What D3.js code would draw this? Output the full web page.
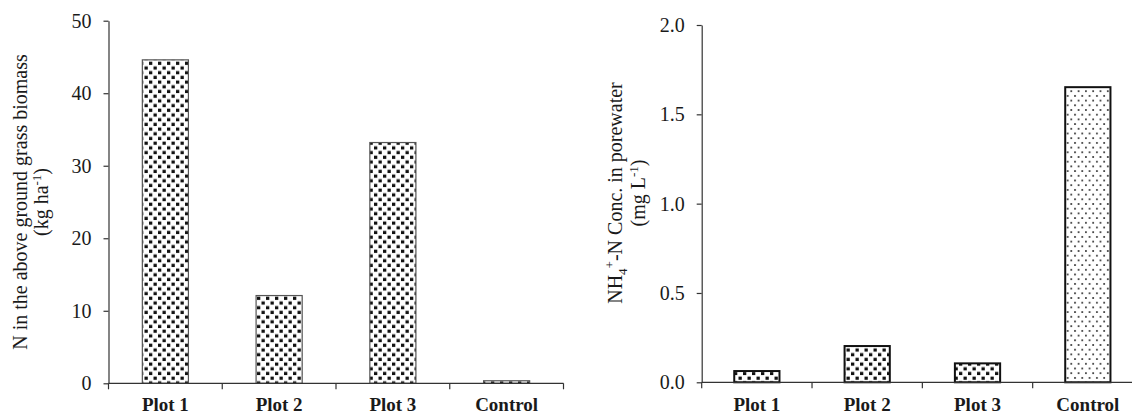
<!DOCTYPE html>
<html>
<head>
<meta charset="utf-8">
<script src="https://cdn.jsdelivr.net/npm/d3@7"></script>
<style>
  html, body { margin: 0; padding: 0; background: #fff; }
  svg { display: block; }
  text { font-family: "Liberation Serif", "Times New Roman", serif; fill: #1a1a1a; }
</style>
</head>
<body>
<svg id="chart" width="1132" height="414"></svg>
<script>
// ---- data ----
const categories = ["Plot 1", "Plot 2", "Plot 3", "Control"];
const biomassN = [44.6, 12.1, 33.2, 0.35];          // kg ha-1
const porewaterNH4 = [0.063, 0.203, 0.106, 1.652];   // mg L-1
const leftTicks = [0, 10, 20, 30, 40, 50];
const rightTicks = [0, 0.5, 1.0, 1.5, 2.0];

const svg = d3.select("#chart");
const defs = svg.append("defs");

(function () {
  const w = 9, h = 9.4;
  const p = defs.append("pattern").attr("id", "dense").attr("patternUnits", "userSpaceOnUse")
    .attr("width", w).attr("height", h);
  p.append("rect").attr("width", w).attr("height", h).attr("fill", "#fff");
  p.append("rect").attr("x", 0.5).attr("y", 0.6).attr("width", 3.3).attr("height", 3.2).attr("fill", "#111");
  p.append("rect").attr("x", 5).attr("y", 5.3).attr("width", 3.3).attr("height", 3.2).attr("fill", "#111");
})();
(function () {
  const w = 7.3, h = 9.4;
  const p = defs.append("pattern").attr("id", "sparse").attr("patternUnits", "userSpaceOnUse")
    .attr("width", w).attr("height", h);
  p.append("rect").attr("width", w).attr("height", h).attr("fill", "#fff");
  p.append("rect").attr("x", 1).attr("y", 1).attr("width", 1.8).attr("height", 1.8).attr("fill", "#444");
  p.append("rect").attr("x", 4.6).attr("y", 5.7).attr("width", 1.8).attr("height", 1.8).attr("fill", "#444");
})();

function drawPanel(opts) {
  const g = svg.append("g");
  const x = d3.scaleBand().domain(categories).range(opts.xRange).padding(0);
  const y = d3.scaleLinear().domain(opts.yDomain).range(opts.yRange);
  const bw = x.bandwidth();
  const barW = bw * opts.barFrac;
  const x0 = opts.xRange[0];
  const yBase = y(0);

  g.selectAll("rect.bar").data(opts.values).join("rect")
    .attr("class", "bar")
    .attr("x", (d, i) => x(categories[i]) + (bw - barW) / 2)
    .attr("y", d => y(d))
    .attr("width", barW)
    .attr("height", d => yBase - y(d))
    .attr("fill", (d, i) => `url(#${opts.fills[i]})`)
    .attr("stroke", opts.barStroke)
    .attr("stroke-width", opts.barStrokeW);

  const yAxis = d3.axisLeft(y).tickValues(opts.ticks).tickSize(5).tickSizeOuter(0).tickPadding(12)
    .tickFormat(opts.fmt);
  const ya = g.append("g").attr("transform", `translate(${x0},0)`).call(yAxis);
  ya.select(".domain").attr("stroke", "#333").attr("stroke-width", 1.2);
  ya.selectAll(".tick line").attr("stroke", "#333").attr("stroke-width", 1.2);
  ya.selectAll(".tick text").style("font-family", "Liberation Serif").style("font-size", "20px").attr("fill", "#1a1a1a");

  g.append("line").attr("x1", x0).attr("x2", opts.xRange[1]).attr("y1", yBase).attr("y2", yBase)
    .attr("stroke", "#333").attr("stroke-width", 1.2);
  const bounds = categories.map(c => x(c)).concat([opts.xRange[1]]);
  g.selectAll("line.xt").data(bounds).join("line").attr("class", "xt")
    .attr("x1", d => d).attr("x2", d => d).attr("y1", yBase).attr("y2", yBase + 6)
    .attr("stroke", "#333").attr("stroke-width", 1.2);
  g.selectAll("text.xl").data(categories).join("text").attr("class", "xl")
    .attr("x", d => x(d) + bw / 2).attr("y", 411)
    .attr("text-anchor", "middle").style("font-size", "19px").style("font-weight", "bold")
    .text(d => d);

  const t = g.append("g").attr("transform", `translate(0,${opts.titleY}) rotate(-90)`);
  opts.title(t);
}

drawPanel({
  xRange: [108.5, 563.5], yDomain: [0, 50], yRange: [383.3, 20.7],
  values: biomassN, ticks: leftTicks, fmt: d3.format("d"), barFrac: 0.405,
  fills: ["dense", "dense", "dense", "dense"], barStroke: "#555", barStrokeW: 1.2,
  titleY: 202,
  title: (t) => {
    t.append("text").attr("x", 0).attr("y", 27).attr("text-anchor", "middle").style("font-size", "20px")
      .text("N in the above ground grass biomass");
    const l2 = t.append("text").attr("x", 0).attr("y", 48).attr("text-anchor", "middle").style("font-size", "20px");
    l2.append("tspan").text("(kg ha");
    l2.append("tspan").attr("dy", -7).style("font-size", "13px").text("-1");
    l2.append("tspan").attr("dy", 7).text(")");
  }
});

drawPanel({
  xRange: [701.7, 1143], yDomain: [0, 2], yRange: [382.3, 25],
  values: porewaterNH4, ticks: rightTicks, fmt: d3.format(".1f"), barFrac: 0.41,
  fills: ["dense", "dense", "dense", "sparse"], barStroke: "#111", barStrokeW: 2,
  titleY: 193,
  title: (t) => {
    const l1 = t.append("text").attr("x", 0).attr("y", 622).attr("text-anchor", "middle").style("font-size", "20px");
    l1.append("tspan").text("NH");
    l1.append("tspan").attr("dy", 5).style("font-size", "13px").text("4");
    l1.append("tspan").attr("dy", -13).style("font-size", "13px").text("+");
    l1.append("tspan").attr("dy", 8).text("-N Conc. in porewater");
    const l2 = t.append("text").attr("x", 0).attr("y", 645).attr("text-anchor", "middle").style("font-size", "20px");
    l2.append("tspan").text("(mg L");
    l2.append("tspan").attr("dy", -7).style("font-size", "13px").text("-1");
    l2.append("tspan").attr("dy", 7).text(")");
  }
});
</script>
</body>
</html>
